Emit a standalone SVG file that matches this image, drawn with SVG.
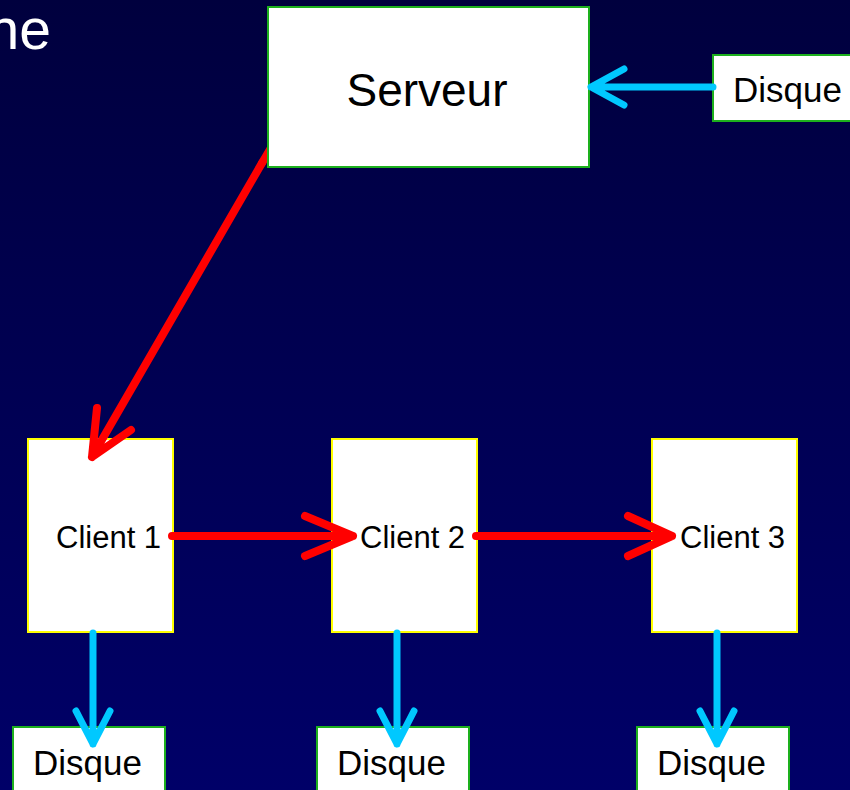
<svg xmlns="http://www.w3.org/2000/svg" width="850" height="790" viewBox="0 0 850 790">
  <defs>
    <linearGradient id="bg" x1="0" y1="0" x2="0" y2="1">
      <stop offset="0" stop-color="#00003E"/>
      <stop offset="1" stop-color="#000068"/>
    </linearGradient>
    <style>
      .box { fill: #FFFFFF; stroke-width: 2; }
      .server, .disk { stroke: #1DB01D; }
      .client { stroke: #FFFF00; }
      .lbl { font-family: "Liberation Sans", Arial, sans-serif; fill: #000000; }
      .red { stroke: #FF0000; stroke-width: 8; fill: none; stroke-linecap: round; stroke-linejoin: round; }
      .blue { stroke: #00C8FF; stroke-width: 7; fill: none; stroke-linecap: round; stroke-linejoin: round; }
    </style>
  </defs>

  <rect x="0" y="0" width="850" height="790" fill="url(#bg)"/>

  <!-- title fragment -->
  <text x="51" y="49" text-anchor="end" font-family="Liberation Sans, Arial, sans-serif" font-size="57" fill="#FFFFFF">ne</text>

  <!-- server-to-client line starts behind the server box -->
  <path class="red" d="M275,141 L262,163"/>

  <g id="server">
    <rect class="box server" x="268" y="7" width="321" height="160"/>
    <text class="lbl" x="427" y="106" text-anchor="middle" font-size="46">Serveur</text>
  </g>

  <g id="disk-server">
    <rect class="box disk" x="713" y="55" width="145" height="66"/>
    <text class="lbl" x="733" y="102" font-size="35">Disque</text>
  </g>

  <g id="client1">
    <rect class="box client" x="28" y="439" width="145" height="193"/>
    <text class="lbl" x="56" y="548" font-size="31">Client 1</text>
  </g>

  <g id="client2">
    <rect class="box client" x="332" y="439" width="145" height="193"/>
    <text class="lbl" x="360" y="548" font-size="31">Client 2</text>
  </g>

  <g id="client3">
    <rect class="box client" x="652" y="439" width="145" height="193"/>
    <text class="lbl" x="680" y="548" font-size="31">Client 3</text>
  </g>

  <g id="disk1">
    <rect class="box disk" x="13" y="727" width="152" height="70"/>
    <text class="lbl" x="33" y="775" font-size="35">Disque</text>
  </g>

  <g id="disk2">
    <rect class="box disk" x="317" y="727" width="152" height="70"/>
    <text class="lbl" x="337" y="775" font-size="35">Disque</text>
  </g>

  <g id="disk3">
    <rect class="box disk" x="637" y="727" width="152" height="70"/>
    <text class="lbl" x="657" y="775" font-size="35">Disque</text>
  </g>

  <!-- connectors, drawn over the boxes so the heads overlap their edges -->
  <g id="connectors">
    <!-- disk to server -->
    <path class="blue" d="M713,87 L591,87 M624,69 L591,87 L624,105"/>
    <!-- server to client 1 -->
    <path class="red" d="M262,163 L92,457 M97,408 L92,457 L131,430"/>
    <!-- client 1 to client 2 -->
    <path class="red" d="M172,536 L353,536 M305,516 L353,536 L305,556"/>
    <!-- client 2 to client 3 -->
    <path class="red" d="M476,536 L672,536 M628,516 L672,536 L628,556"/>
    <!-- clients to disks -->
    <path class="blue" d="M93,633 L93,744 M76,711 L93,744 L110,711"/>
    <path class="blue" d="M397,633 L397,744 M380,711 L397,744 L414,711"/>
    <path class="blue" d="M717,633 L717,744 M700,711 L717,744 L734,711"/>
  </g>
</svg>
